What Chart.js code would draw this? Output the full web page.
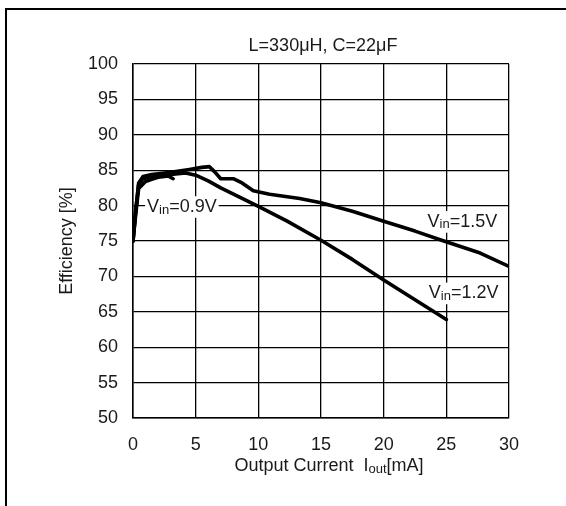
<!DOCTYPE html>
<html>
<head>
<meta charset="utf-8">
<script src="https://cdn.jsdelivr.net/npm/chart.js@4"></script>
<style>
    html, body { margin: 0; padding: 0; background: #fff; }
    #wrap { position: relative; width: 566px; height: 506px; overflow: hidden; }
    #frame { position: absolute; left: 5px; top: 8px; width: 600px; height: 600px;
             border-left: 2px solid #000; border-top: 2px solid #000; }
    canvas { position: absolute; left: 0; top: 0; }
</style>
</head>
<body>
<div id="wrap">
    <div id="frame"></div>
    <canvas id="chart" width="566" height="506"></canvas>
</div>
<script>
// Efficiency vs output current
const current15 = [0, 0.2, 0.45, 0.8, 1.5, 3, 4.5, 5.5, 6.1, 6.5, 7, 8, 8.7, 9.6, 10.9, 13.3, 15, 17.5, 20, 22.5, 24.8, 27.7, 30];
const eff15 = [75, 79, 83.2, 84.1, 84.4, 84.7, 85.1, 85.4, 85.5, 84.8, 83.8, 83.8, 83.2, 82.1, 81.6, 81.0, 80.4, 79.2, 77.8, 76.4, 75.0, 73.3, 71.4];

const current12 = [0, 0.2, 0.45, 0.8, 1.5, 3, 4.2, 5, 6, 7, 8.5, 10, 12.3, 15, 17.5, 20, 22.5, 25];
const eff12 = [75, 79, 83, 83.8, 84.1, 84.4, 84.6, 84.3, 83.5, 82.5, 81.2, 79.9, 77.8, 75.1, 72.4, 69.5, 66.7, 63.9];

const current09 = [0, 0.2, 0.45, 1, 1.5, 2, 2.5, 2.8, 3.2];
const eff09 = [75, 78.5, 82.4, 83.4, 83.7, 84.0, 84.1, 84.2, 83.8];

const xTicks = [0, 5, 10, 15, 20, 25, 30];
const yTicks = [50, 55, 60, 65, 70, 75, 80, 85, 90, 95, 100];

const chartTitle = 'L=330\u03BCH, C=22\u03BCF';

(function() {
    'use strict';

    const FONT = '"Liberation Sans", Arial, Helvetica, sans-serif';
    const TEXT = '#1a1a1a';

    // curve labels: [main, sub, rest] placed in data coordinates
    const curveLabels = [
        { parts: ['V', 'in', '=0.9V'], x: 1.12, y: 79.8 },
        { parts: ['V', 'in', '=1.5V'], x: 23.5, y: 77.7 },
        { parts: ['V', 'in', '=1.2V'], x: 23.6, y: 67.6 }
    ];

    function toPoints(xs, ys) {
        return xs.map((x, i) => ({ x: x, y: ys[i] }));
    }

    function lineSet(label, xs, ys) {
        return {
            label: label,
            data: toPoints(xs, ys),
            borderColor: '#000',
            borderWidth: 3.6,
            pointRadius: 0,
            tension: 0,
            fill: false,
            borderJoinStyle: 'round',
            borderCapStyle: 'round'
        };
    }

    // draw "main" + subscript + "rest", starting at x, vertically centred on y
    function drawSubText(ctx, parts, x, y, size, withBg) {
        const subSize = Math.round(size * 0.72);
        ctx.textBaseline = 'middle';
        ctx.textAlign = 'left';
        ctx.font = size + 'px ' + FONT;
        const w0 = ctx.measureText(parts[0]).width;
        const w2 = ctx.measureText(parts[2]).width;
        ctx.font = subSize + 'px ' + FONT;
        const w1 = ctx.measureText(parts[1]).width;
        if (withBg) {
            ctx.fillStyle = '#fff';
            ctx.fillRect(x - 2, y - size * 0.6, w0 + w1 + w2 + 4, size * 1.2);
        }
        ctx.fillStyle = TEXT;
        ctx.font = size + 'px ' + FONT;
        ctx.fillText(parts[0], x, y);
        ctx.font = subSize + 'px ' + FONT;
        ctx.fillText(parts[1], x + w0, y + 3);
        ctx.font = size + 'px ' + FONT;
        ctx.fillText(parts[2], x + w0 + w1, y);
        return w0 + w1 + w2;
    }

    const textPlugin = {
        id: 'texts',
        afterDraw(chart) {
            const ctx = chart.ctx;
            const area = chart.chartArea;
            const xs = chart.scales.x;
            const ys = chart.scales.y;
            ctx.save();

            // title
            ctx.fillStyle = TEXT;
            ctx.font = '18px ' + FONT;
            ctx.textAlign = 'center';
            ctx.textBaseline = 'middle';
            ctx.fillText(chartTitle, 323, 46);

            // y axis title
            ctx.save();
            ctx.translate(67, (area.top + area.bottom) / 2);
            ctx.rotate(-Math.PI / 2);
            ctx.fillText('Efficiency [%]', 0, 0);
            ctx.restore();

            // x axis title with subscript
            const xParts = ['Output Current  I', 'out', '[mA]'];
            ctx.font = '18px ' + FONT;
            let total = ctx.measureText(xParts[0]).width + ctx.measureText(xParts[2]).width;
            ctx.font = '13px ' + FONT;
            total += ctx.measureText(xParts[1]).width;
            drawSubText(ctx, xParts, 329 - total / 2, 466, 18, false);

            // curve labels
            curveLabels.forEach(l => {
                drawSubText(ctx, l.parts, xs.getPixelForValue(l.x), ys.getPixelForValue(l.y), 18, true);
            });
            ctx.restore();
        }
    };

    document.addEventListener('DOMContentLoaded', function() {
        const ctx = document.getElementById('chart').getContext('2d');
        new Chart(ctx, {
            type: 'line',
            data: {
                datasets: [
                    lineSet('Vin=1.5V', current15, eff15),
                    lineSet('Vin=1.2V', current12, eff12),
                    lineSet('Vin=0.9V', current09, eff09)
                ]
            },
            options: {
                responsive: false,
                animation: false,
                layout: { padding: { top: 64, right: 57, left: 0, bottom: 0 } },
                plugins: {
                    legend: { display: false },
                    title: { display: false },
                    tooltip: { enabled: false }
                },
                scales: {
                    x: {
                        type: 'linear',
                        min: 0,
                        max: 30,
                        afterFit: s => { s.height = 88; },
                        afterBuildTicks: s => { s.ticks = xTicks.map(v => ({ value: v })); },
                        grid: { color: '#000', lineWidth: 1.3, drawTicks: false },
                        border: { color: '#000', width: 1.5 },
                        ticks: { color: TEXT, padding: 16, font: { family: FONT, size: 18 } }
                    },
                    y: {
                        type: 'linear',
                        min: 50,
                        max: 100,
                        afterFit: s => { s.width = 133; },
                        afterBuildTicks: s => { s.ticks = yTicks.map(v => ({ value: v })); },
                        grid: { color: '#000', lineWidth: 1.3, drawTicks: false },
                        border: { color: '#000', width: 1.5 },
                        ticks: { color: TEXT, padding: 15, font: { family: FONT, size: 18 } }
                    }
                }
            },
            plugins: [textPlugin]
        });
    });
})();
</script>
</body>
</html>
